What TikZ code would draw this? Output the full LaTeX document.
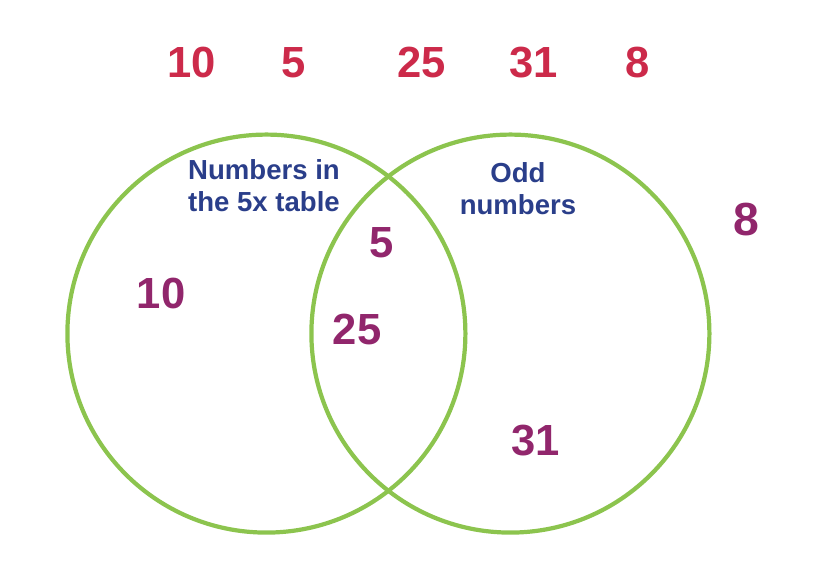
\documentclass[tikz,border=0pt]{standalone}
\usepackage{fontspec}
\setmainfont{Liberation Sans}
\definecolor{ringgreen}{RGB}{140,196,78}
\definecolor{listred}{RGB}{204,42,74}
\definecolor{setpurple}{RGB}{145,38,108}
\definecolor{labelblue}{RGB}{42,62,138}
\begin{document}
\begin{tikzpicture}[every node/.style={font=\bfseries, inner sep=0pt},
                    listnum/.style={text=listred, font=\fontsize{31}{36}\bfseries},
                    setnum/.style={text=setpurple, font=\fontsize{31}{36}\bfseries},
                    setlabel/.style={text=labelblue, align=center, font=\fontsize{19.6}{22.7}\bfseries},
                    setring/.style={circle, draw=ringgreen, line width=3pt, minimum size=9.95cm}]

    \useasboundingbox (0,0) rectangle (20.4,14.5);

    % Numbers to sort
    \node[listnum] (L10) at (4.8,12.94) {10};
    \node[listnum] (L5) at (7.35,12.94) {5};
    \node[listnum] (L25) at (10.55,12.94) {25};
    \node[listnum] (L31) at (13.35,12.94) {31};
    \node[listnum] (L8) at (15.95,12.94) {8};

    % The two sets
    \node[setring] (Five) at (6.66,6.16) {}; % 5x table
    \node[setring] (Odd) at (12.76,6.16) {}; % odd numbers

    % Set labels
    \node[setlabel] (FiveLabel) at (6.6,9.85) {Numbers in\\the 5x table};
    \node[setlabel] (OddLabel) at (12.95,9.78) {Odd\\numbers};

    % Sorted numbers
    \node[setnum] (S10) at (4.03,7.15) {10}; % only 5x
    \node[setnum] (S5) at (9.55,8.43) {5}; % both
    \node[setnum] (S25) at (8.93,6.26) {25}; % both
    \node[setnum] (S31) at (13.4,3.48) {31}; % only odd
    \node[setnum, font=\fontsize{33}{38}\bfseries] (S8) at (18.65,9.0) {8}; % neither
\end{tikzpicture}
\end{document}
